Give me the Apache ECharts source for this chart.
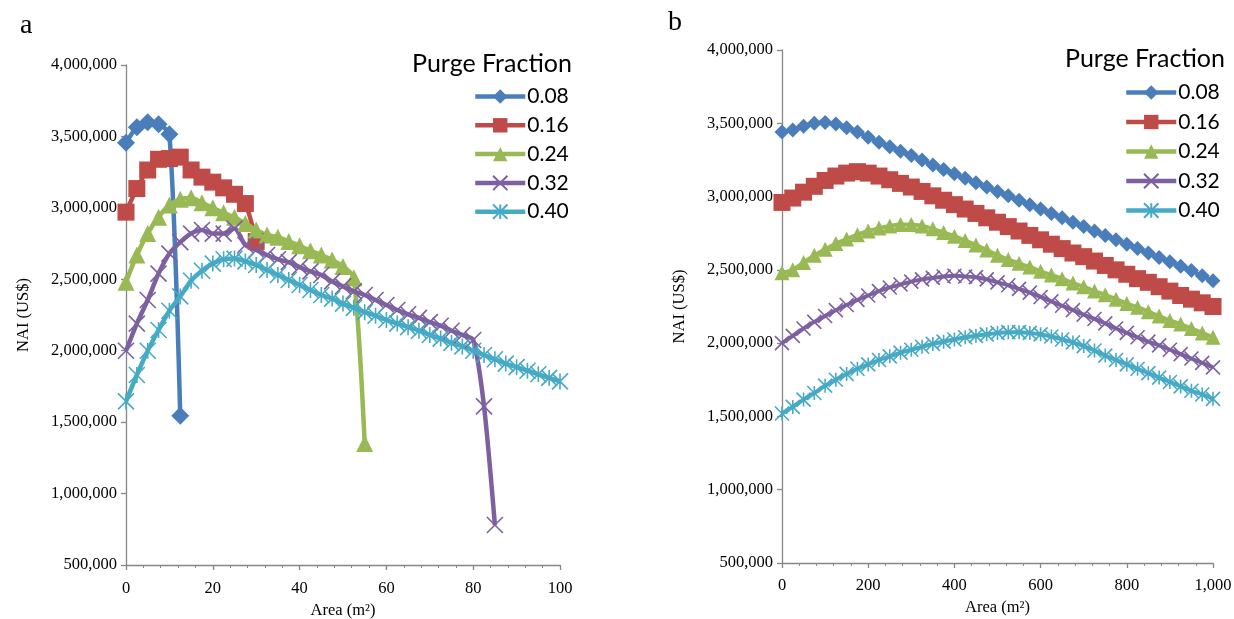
<!DOCTYPE html>
<html>
<head>
<meta charset="utf-8">
<title>NAI vs Area</title>
<script src="https://cdn.jsdelivr.net/npm/echarts@6/dist/echarts.min.js"></script>
<style>
  html, body { margin: 0; padding: 0; background: #ffffff; }
  #chart { width: 1234px; height: 619px; }
</style>
</head>
<body>
<div id="chart"></div>
<script>
// Purge fractions (series names)
const purgeFractions = ['0.08', '0.16', '0.24', '0.32', '0.40'];

// Panel a: membrane area (m2) sample points
const areaA = [0, 2.5, 5, 7.5, 10, 12.5, 15, 17.5, 20, 22.5, 25, 27.5, 30, 32.5, 35, 37.5, 40,
  42.5, 45, 47.5, 50, 52.5, 55, 57.5, 60, 62.5, 65, 67.5, 70, 72.5, 75, 77.5, 80,
  82.5, 85, 87.5, 90, 92.5, 95, 97.5, 100];

// Panel a: NAI in thousand US$ for each purge fraction
const naiA008 = [3455, 3565, 3600, 3585, 3515, 1545];
const naiA016 = [2970, 3135, 3265, 3340, 3345, 3355, 3265, 3215, 3180, 3140, 3095, 3030, 2765];
const naiA024 = [2480, 2670, 2820, 2935, 3020, 3060, 3070, 3035, 3000, 2965, 2935, 2890, 2845,
  2810, 2795, 2765, 2735, 2700, 2670, 2635, 2590, 2510, 1350];
const naiA032 = [2000, 2190, 2355, 2540, 2680, 2760, 2820, 2845, 2820, 2820, 2855, 2740, 2705,
  2670, 2640, 2620, 2585, 2555, 2530, 2485, 2450, 2415, 2390, 2355, 2320, 2285, 2255,
  2230, 2200, 2175, 2140, 2110, 2075, 1610, 780];
const naiA040 = [1645, 1830, 2000, 2145, 2280, 2380, 2490, 2560, 2610, 2640, 2645, 2625, 2600,
  2565, 2530, 2495, 2460, 2425, 2390, 2365, 2330, 2300, 2270, 2245, 2215, 2190, 2165,
  2140, 2110, 2085, 2055, 2030, 2000, 1970, 1940, 1910, 1885, 1860, 1835, 1810, 1785];

// Panel b: membrane area (m2) sample points
const areaB = [0, 25, 50, 75, 100, 125, 150, 175, 200, 225, 250, 275, 300, 325, 350, 375, 400,
  425, 450, 475, 500, 525, 550, 575, 600, 625, 650, 675, 700, 725, 750, 775, 800,
  825, 850, 875, 900, 925, 950, 975, 1000];

// Panel b: NAI in thousand US$ for each purge fraction
const naiB008 = [3440, 3455, 3480, 3500, 3505, 3495, 3470, 3440, 3405, 3370, 3340, 3310, 3280,
  3250, 3215, 3185, 3155, 3125, 3095, 3065, 3035, 3005, 2975, 2945, 2915, 2885, 2855,
  2825, 2795, 2765, 2735, 2705, 2675, 2645, 2615, 2585, 2555, 2525, 2495, 2460, 2425];
const naiB016 = [2960, 2990, 3030, 3070, 3110, 3140, 3160, 3170, 3160, 3140, 3115, 3090, 3065,
  3035, 3005, 2975, 2945, 2915, 2885, 2855, 2825, 2795, 2765, 2735, 2705, 2675, 2645,
  2615, 2590, 2560, 2530, 2500, 2470, 2440, 2415, 2385, 2355, 2325, 2300, 2275, 2250];
const naiB024 = [2480, 2500, 2550, 2600, 2640, 2680, 2710, 2740, 2765, 2785, 2800, 2810, 2810,
  2800, 2780, 2755, 2730, 2700, 2670, 2635, 2600, 2570, 2545, 2520, 2490, 2465, 2440,
  2410, 2385, 2355, 2330, 2300, 2270, 2245, 2215, 2185, 2155, 2130, 2100, 2070, 2040];
const naiB032 = [2000, 2050, 2100, 2145, 2185, 2225, 2260, 2295, 2325, 2355, 2380, 2400, 2420,
  2435, 2445, 2455, 2460, 2455, 2450, 2435, 2415, 2395, 2370, 2345, 2315, 2285, 2255,
  2225, 2195, 2165, 2135, 2100, 2070, 2040, 2010, 1985, 1955, 1925, 1895, 1865, 1835];
const naiB040 = [1520, 1565, 1615, 1660, 1710, 1750, 1790, 1825, 1855, 1885, 1910, 1935, 1955,
  1975, 1995, 2010, 2025, 2040, 2050, 2060, 2070, 2075, 2075, 2070, 2060, 2045, 2025,
  2005, 1980, 1950, 1915, 1885, 1855, 1825, 1795, 1765, 1735, 1705, 1675, 1650, 1620];

// Y-axis tick values (US$)
const naiTicks = [500000, 1000000, 1500000, 2000000, 2500000, 3000000, 3500000, 4000000];

const colors = ['#4A7EBB', '#BE4B48', '#98B954', '#7D60A0', '#46AAC5'];
const symbols = [
  'diamond',
  'rect',
  'triangle',
  'path://M0,0L10,10M10,0L0,10',
  'path://M0,0L10,10M10,0L0,10M5,0L5,10'
];
const strokeOnly = [false, false, false, true, true];

const serif = '"Liberation Serif", "Times New Roman", serif';
const sans = 'Lato, "Open Sans", sans-serif';
const fmt = v => Number(v).toLocaleString('en-US');

function buildSeries(xs, valueSets, axisIndex, sizes, lineWidth) {
  return valueSets.map((vals, k) => ({
    name: purgeFractions[k],
    type: 'line',
    xAxisIndex: axisIndex,
    yAxisIndex: axisIndex,
    data: vals.map((v, i) => [xs[i], v * 1000]),
    smooth: 0.25,
    showSymbol: true,
    symbol: symbols[k],
    symbolSize: sizes[k],
    lineStyle: { color: colors[k], width: lineWidth },
    itemStyle: strokeOnly[k]
      ? { color: colors[k], borderColor: colors[k], borderWidth: 1.6 }
      : { color: colors[k], borderWidth: 0 },
    emphasis: { disabled: true },
    animation: false
  }));
}

function yAxisCfg(gridIndex) {
  return {
    type: 'value', gridIndex,
    min: naiTicks[0], max: naiTicks[naiTicks.length - 1], interval: 500000,
    name: 'NAI (US$)', nameLocation: 'middle', nameGap: 94, nameRotate: 90,
    nameTextStyle: { fontFamily: serif, fontSize: 16.5, color: '#000' },
    axisLine: { show: true, lineStyle: { color: '#868686', width: 1.3 } },
    axisTick: { show: true, length: 5, lineStyle: { color: '#868686', width: 1.3 } },
    axisLabel: { fontFamily: serif, fontSize: 16.5, color: '#000', margin: 9, formatter: fmt },
    splitLine: { show: false }
  };
}

function xAxisCfg(gridIndex, max, interval, labelMargin, nameGap) {
  return {
    type: 'value', gridIndex, min: 0, max, interval,
    name: 'Area (m²)', nameLocation: 'middle', nameGap,
    nameTextStyle: { fontFamily: serif, fontSize: 16.5, color: '#000' },
    axisLine: { show: true, onZero: false, lineStyle: { color: '#868686', width: 1.3 } },
    axisTick: { show: true, length: 5, lineStyle: { color: '#868686', width: 1.3 } },
    minorTick: { show: true, splitNumber: 5, length: 3, lineStyle: { color: '#868686', width: 1 } },
    axisLabel: { fontFamily: serif, fontSize: 16.5, color: '#000', margin: labelMargin, formatter: fmt },
    splitLine: { show: false }
  };
}

function legendCfg(left, top, gap) {
  return {
    orient: 'vertical', left, top, padding: 0,
    data: purgeFractions,
    itemWidth: 50, itemHeight: 18, itemGap: gap,
    lineStyle: { width: 4.5 },
    textStyle: { fontFamily: sans, fontSize: 21, color: '#000', lineHeight: 20, padding: [0, 0, 0, -3] },
    selectedMode: false
  };
}

const titleStyle = (family, size) => ({ fontFamily: family, fontSize: size, fontWeight: 'normal', color: '#000' });

const chart = echarts.init(document.getElementById('chart'), null, { renderer: 'canvas' });

chart.setOption({
  backgroundColor: '#ffffff',
  animation: false,
  title: [
    { text: 'a', left: 20, top: 12, padding: 0, textStyle: titleStyle(serif, 28) },
    { text: 'b', left: 668, top: 9, padding: 0, textStyle: titleStyle(serif, 28) },
    { text: 'Purge Fraction', left: 412, top: 51, padding: 0, textStyle: titleStyle(sans, 25) },
    { text: 'Purge Fraction', left: 1065, top: 46, padding: 0, textStyle: titleStyle(sans, 25) }
  ],
  legend: [
    legendCfg(473, 86, 7.8),
    legendCfg(1124, 82, 8.5)
  ],
  grid: [
    { left: 126, top: 65, width: 434, height: 500, containLabel: false, outerBoundsMode: 'none' },
    { left: 782, top: 50, width: 431, height: 513, containLabel: false, outerBoundsMode: 'none' }
  ],
  xAxis: [xAxisCfg(0, 100, 20, 15, 33), xAxisCfg(1, 1000, 200, 14, 33)],
  yAxis: [yAxisCfg(0), yAxisCfg(1)],
  series: [
    ...buildSeries(areaA, [naiA008, naiA016, naiA024, naiA032, naiA040], 0, [18, 17, 17, 16, 16], 4.5),
    ...buildSeries(areaB, [naiB008, naiB016, naiB024, naiB032, naiB040], 1, [15, 17, 15, 14, 14], 4)
  ]
});
</script>
</body>
</html>
